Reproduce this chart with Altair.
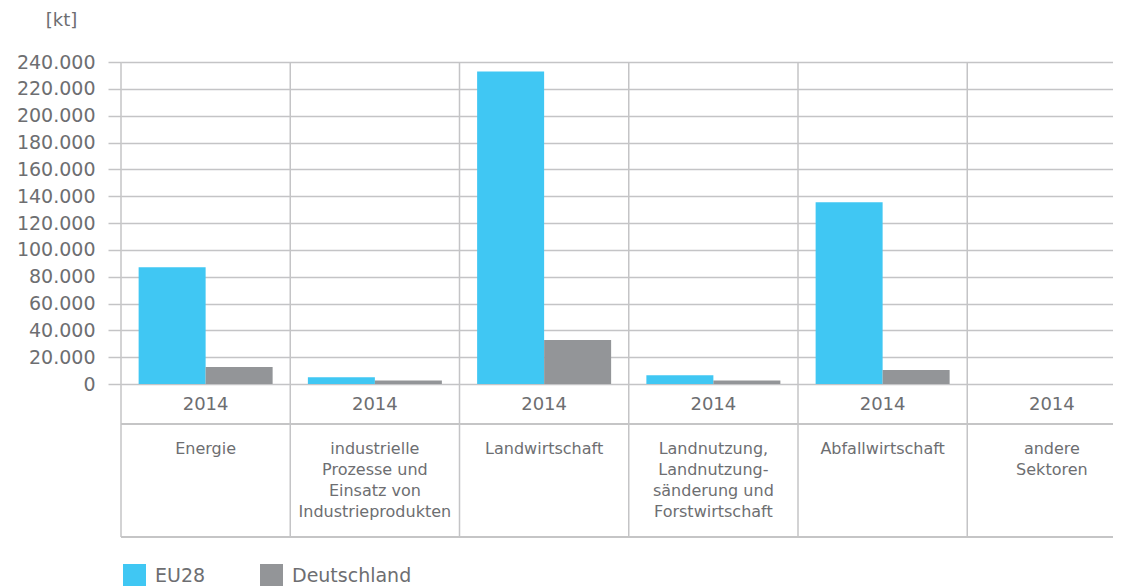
import altair as alt
import pandas as pd

# ---- data ----
sector_keys = ["Energie", "Industrie", "Landwirtschaft", "LULUCF", "Abfallwirtschaft", "Andere"]
sector_labels = [
    "Energie",
    "industrielle\nProzesse und\nEinsatz von\nIndustrieprodukten",
    "Landwirtschaft",
    "Landnutzung,\nLandnutzung-\nsänderung und\nForstwirtschaft",
    "Abfallwirtschaft",
    "andere\nSektoren",
]
years = ["2014", "2014", "2014", "2014", "2014", "2014"]
series_names = ["EU28", "Deutschland"]
eu28 = [87000, 5000, 233000, 6500, 135500, 0]
deutschland = [12700, 2700, 32800, 2700, 10400, 0]
y_ticks = [0, 20000, 40000, 60000, 80000, 100000, 120000, 140000, 160000, 180000, 200000, 220000, 240000]
colors = ["#40C7F3", "#939598"]

rows = []
for i, k in enumerate(sector_keys):
    rows.append({"sector": k, "series": "EU28", "value": eu28[i]})
    rows.append({"sector": k, "series": "Deutschland", "value": deutschland[i]})
bars_df = pd.DataFrame(rows)
table_df = pd.DataFrame({"sector": sector_keys, "label": sector_labels, "year": years})

FONT = "DejaVu Sans"
TXT = "#6d6e71"
GRID = "#c4c4c6"
PLOT_H = 322
W = 992
H = 475

xscale = alt.Scale(domain=sector_keys, range=[0, 1015.5], paddingInner=0, paddingOuter=0)

bars = alt.Chart(bars_df).mark_bar().encode(
    x=alt.X("sector:N", scale=xscale, axis=None),
    xOffset=alt.XOffset("series:N", sort=series_names,
                        scale=alt.Scale(domain=series_names, paddingInner=0, paddingOuter=0.263)),
    y=alt.Y("value:Q",
            scale=alt.Scale(domain=[0, 240000], range=[PLOT_H, 0], nice=False, zero=True),
            axis=alt.Axis(values=y_ticks,
                          labelExpr="datum.value == 0 ? '0' : format(datum.value / 1000, 'd') + '.000'",
                          tickSize=13, tickColor=GRID, tickWidth=1.5, domain=False,
                          labelPadding=13, labelFont=FONT, labelFontSize=19, labelColor=TXT,
                          gridColor=GRID, gridWidth=1.5,
                          title="[kt]", titleAngle=0, titleX=-60, titleY=-42,
                          titleAlign="center", titleBaseline="middle", titleFont=FONT,
                          titleFontSize=18, titleFontWeight="normal", titleColor=TXT)),
    color=alt.Color("series:N", sort=series_names,
                    scale=alt.Scale(domain=series_names, range=colors),
                    legend=alt.Legend(orient="none", legendX=2, legendY=502, direction="horizontal",
                                      title=None, symbolType="square", symbolSize=529,
                                      symbolStrokeWidth=0, symbolOpacity=1,
                                      labelFont=FONT, labelFontSize=19, labelColor=TXT,
                                      labelOffset=9, columnPadding=54, padding=0)),
)

vlines = alt.Chart(table_df).mark_rule(color=GRID, strokeWidth=1.5).encode(
    x=alt.X("sector:N", scale=xscale, axis=None, bandPosition=0),
    y=alt.value(0),
    y2=alt.value(H),
)

year_text = alt.Chart(table_df).mark_text(
    font=FONT, fontSize=18, color=TXT, baseline="middle", align="center"
).encode(
    x=alt.X("sector:N", scale=xscale, axis=None),
    y=alt.value(343),
    text="year:N",
)

label_text = alt.Chart(table_df).mark_text(
    font=FONT, fontSize=16, color=TXT, baseline="top", align="center", lineBreak="\n", lineHeight=21
).encode(
    x=alt.X("sector:N", scale=xscale, axis=None),
    y=alt.value(379),
    text="label:N",
)

rule_mid = alt.Chart(table_df).mark_rule(color=GRID, strokeWidth=1.5).encode(
    x=alt.value(0), x2=alt.value(W), y=alt.value(362)
)
rule_bot = alt.Chart(table_df).mark_rule(color=GRID, strokeWidth=1.5).encode(
    x=alt.value(0), x2=alt.value(W), y=alt.value(H)
)

chart = alt.layer(vlines, rule_mid, rule_bot, bars, year_text, label_text).properties(
    width=W, height=H,
    autosize=alt.AutoSizeParams(type="none"),
    padding={"left": 113, "top": 54, "right": 0, "bottom": 49},
).configure_view(stroke=None)

chart.save("out.html", embed_options={"renderer": "svg", "actions": False})
